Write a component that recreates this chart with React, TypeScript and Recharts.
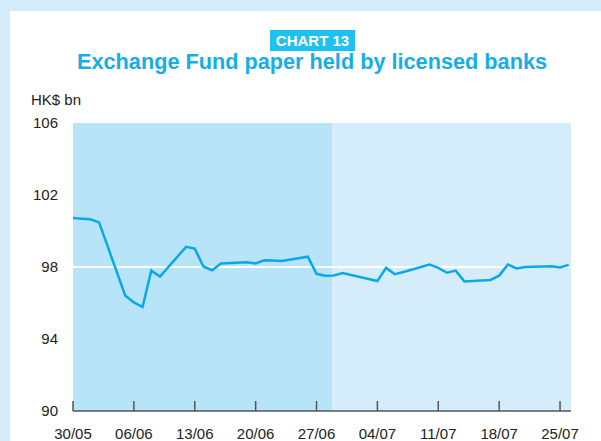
import React from 'react';
import { LineChart, Line, XAxis, YAxis, ReferenceArea, ReferenceLine } from 'recharts';

// day index counted from 30/05
const days = [0, 1, 2, 3, 6, 7, 8, 9, 10, 13, 14, 15, 16, 17, 20, 21, 22, 23, 24, 27, 28, 29, 30, 31, 35, 36, 37, 38, 41, 42, 43, 44, 45, 48, 49, 50, 51, 52, 55, 56, 57];
const values = [100.72, 100.68, 100.65, 100.48, 96.42, 96.03, 95.78, 97.8, 97.47, 99.12, 99.02, 98.03, 97.82, 98.2, 98.27, 98.2, 98.37, 98.36, 98.34, 98.57, 97.62, 97.52, 97.53, 97.66, 97.22, 97.95, 97.6, 97.72, 98.13, 97.95, 97.68, 97.8, 97.2, 97.28, 97.52, 98.14, 97.92, 98.0, 98.04, 97.97, 98.12];

const xTicks = [0, 7, 14, 21, 28, 35, 42, 49, 56];
const xTickLabels = ['30/05', '06/06', '13/06', '20/06', '27/06', '04/07', '11/07', '18/07', '25/07'];
const yTicks = [90, 94, 98, 102, 106];
const shadeSplit = 29.8;
const domainEnd = 57.26;

const data = days.map((d, i) => ({ day: d, value: values[i] }));

const FONT = '"Liberation Sans", Arial, Helvetica, sans-serif';

const XTick = (props: any) => {
  const { x, y, payload } = props;
  const idx = xTicks.indexOf(payload.value);
  return (
    <g>
      <line x1={x} x2={x} y1={y - 10} y2={y} stroke="#555" strokeWidth={1.5} />
      <text x={x} y={y + 28} textAnchor="middle" fontSize={15} fill="#222" fontFamily={FONT}>
        {idx >= 0 ? xTickLabels[idx] : ''}
      </text>
    </g>
  );
};

export default function App() {
  return (
    <div style={{ position: 'absolute', left: 0, top: 0, width: 601, height: 441, background: '#fff', overflow: 'hidden', fontFamily: FONT }}>
      <div style={{ position: 'absolute', left: 0, top: 0, width: 601, height: 11, background: '#d5edfa' }} />
      <div style={{ position: 'absolute', left: 0, top: 0, width: 10, height: 441, background: '#d5edfa' }} />
      <div style={{ position: 'absolute', left: 270, top: 30, width: 85, height: 21, background: '#1ec1ef', color: '#fff', fontWeight: 'bold', fontSize: 15, lineHeight: '21px', textAlign: 'center' }}>CHART 13</div>
      <div style={{ position: 'absolute', left: 0, top: 52, width: 624, textAlign: 'center', color: '#16ade8', fontWeight: 'bold', fontSize: 21.7, lineHeight: '20px', whiteSpace: 'nowrap' }}>
        Exchange Fund paper held by licensed banks
      </div>
      <div style={{ position: 'absolute', left: 31, top: 91, color: '#222', fontSize: 15, lineHeight: '18px' }}>HK$ bn</div>
      <div style={{ position: 'absolute', left: 0, top: 0 }}>
        <LineChart width={601} height={441} data={data} margin={{ top: 123, right: 30, bottom: 0, left: 13 }}>
          <ReferenceArea x1={0} x2={shadeSplit} y1={90} y2={106} fill="#b8e4f9" fillOpacity={1} stroke="none" />
          <ReferenceArea x1={shadeSplit} x2={domainEnd} y1={90} y2={106} fill="#d5edfa" fillOpacity={1} stroke="none" />
          <ReferenceLine y={98} stroke="#ffffff" strokeWidth={2} />
          <XAxis
            dataKey="day"
            type="number"
            domain={[0, domainEnd]}
            ticks={xTicks}
            height={30}
            tickSize={0}
            tickMargin={0}
            tickLine={false}
            axisLine={{ stroke: '#555', strokeWidth: 1.5 }}
            tick={<XTick />}
            interval={0}
          />
          <YAxis
            type="number"
            domain={[90, 106]}
            ticks={yTicks}
            width={60}
            axisLine={false}
            tickLine={false}
            tickSize={6}
            tickMargin={9}
            tick={{ fontSize: 15, fill: '#222', fontFamily: FONT }}
            interval={0}
          />
          <Line type="linear" dataKey="value" stroke="#0aa8e9" strokeWidth={2.5} dot={false} isAnimationActive={false} />
        </LineChart>
      </div>
    </div>
  );
}
